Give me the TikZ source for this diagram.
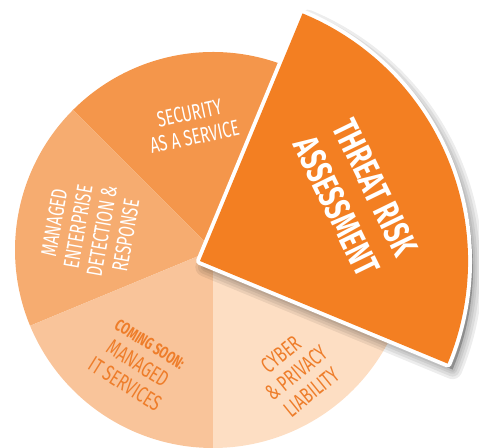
\documentclass[tikz,border=0pt]{standalone}
\usepackage{fontspec}
\setmainfont{Fira Sans}[FakeStretch=0.7]

\definecolor{secfill}{HTML}{F4964B}
\definecolor{entfill}{HTML}{F6AC70}
\definecolor{itfill}{HTML}{F9C49A}
\definecolor{cyberfill}{HTML}{FDDEC3}
\definecolor{threatfill}{HTML}{F37F22}
\definecolor{labelorange}{HTML}{EE7D2A}

\begin{document}
\begin{tikzpicture}[x=0.02cm, y=0.02cm,
    slicetext/.style={font=\fontsize{12.6}{13.8}\selectfont, align=center, inner sep=0pt},
    lighttext/.style={slicetext, text=white},
    darktext/.style={slicetext, text=labelorange},
    threatwedge/.style={insert path={
      (200,187) -- ++(-22.5:268)
      arc [start angle=-22.5, end angle=67.5, radius=268]
      -- cycle}}]
  \useasboundingbox (0,0) rectangle (479,448);
  \coordinate (pie) at (213,198);

  % --- Pie slices (the threat slice is drawn pulled out below) ---
  \foreach \a/\b/\c in {67.5/135/secfill, 135/202.5/entfill,
                        202.5/270/itfill, 270/337.5/cyberfill}
    \path[fill=\c] (pie) -- ++(\a:198)
      arc [start angle=\a, end angle=\b, radius=198] -- cycle;

  % --- Soft shadow of the big slice ---
  \foreach \w in {11pt,8pt,5pt,2.5pt}
    \path[shift={(5,-6)}, threatwedge, fill=black, draw=black,
          opacity=0.07, line width=\w, line join=round];

  % --- Big slice with a white rim ---
  \path[threatwedge, draw=white, line width=4.5pt, line join=round];
  \path[threatwedge, fill=threatfill];

  % --- Labels ---
  \node[lighttext, rotate=12] (security) at (192,323)
    {SECURITY\\AS A SERVICE};
  \node[lighttext, rotate=80] (enterprise) at (90,219)
    {MANAGED\\ENTERPRISE\\DETECTION \&\\RESPONSE};
  \node[darktext, rotate=-32] (itservices) at (137,83)
    {{\bfseries\fontsize{9.5}{11}\selectfont COMING SOON:}\\MANAGED\\IT SERVICES};
  \node[darktext, rotate=39] (cyber) at (296,75)
    {CYBER\\\& PRIVACY\\LIABILITY};
  \node[lighttext, rotate=-64, font=\bfseries\fontsize{20.6}{24.4}\selectfont]
    (threat) at (356,251) {THREAT RISK\\ASSESSMENT};
\end{tikzpicture}
\end{document}
